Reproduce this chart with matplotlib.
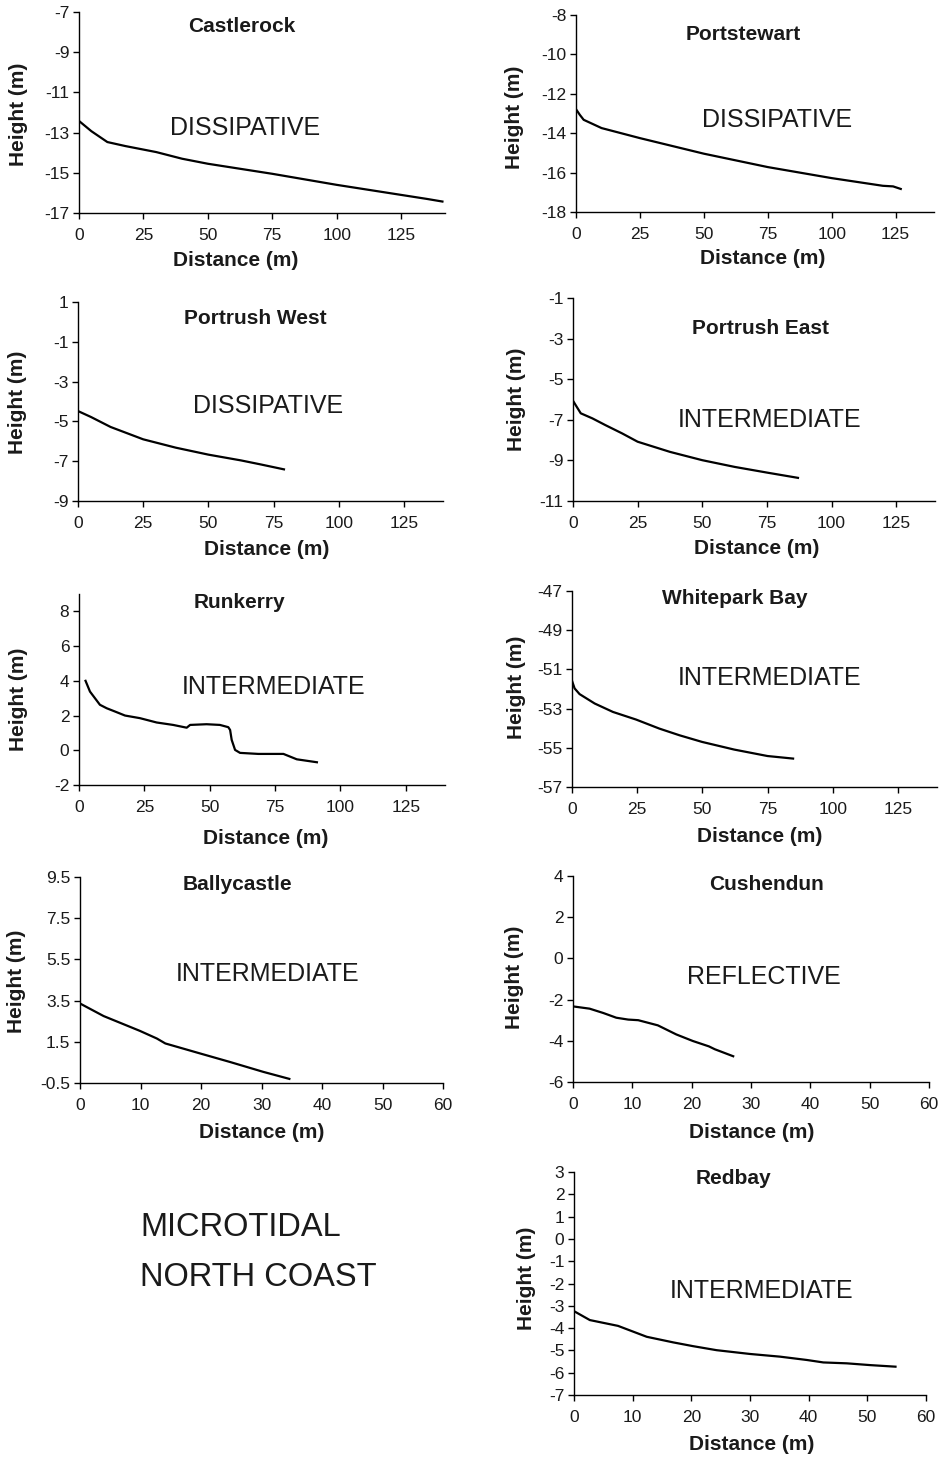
import numpy as np
import matplotlib
matplotlib.use("Agg")
import matplotlib.pyplot as plt

plt.rcParams['font.family'] = ['Liberation Sans', 'DejaVu Sans']
plt.rcParams['axes.unicode_minus'] = False

W, H = 944, 1459

# beach profiles (distance m, height m)
castlerock_x = [0, 4.8, 11, 18, 30, 40, 50, 75, 100, 125, 135, 141]
castlerock_y = [-12.42, -12.93, -13.47, -13.67, -13.97, -14.3, -14.55, -15.05, -15.6, -16.1, -16.3, -16.43]

portstewart_x = [0, 1.5, 3, 10, 25, 50, 75, 100, 120, 124, 127]
portstewart_y = [-12.78, -13.07, -13.32, -13.74, -14.25, -15.04, -15.72, -16.28, -16.67, -16.7, -16.83]

portrushw_x = [0, 5, 12.5, 25, 37.5, 50, 62.5, 70, 79]
portrushw_y = [-4.48, -4.78, -5.28, -5.9, -6.32, -6.67, -6.96, -7.16, -7.41]

portrushe_x = [0, 1, 3, 7.5, 12.5, 19, 25, 37.5, 50, 62.5, 75, 87]
portrushe_y = [-6.06, -6.27, -6.68, -6.93, -7.26, -7.67, -8.08, -8.58, -8.99, -9.32, -9.6, -9.86]

runkerry_x = [2.5, 4.2, 8, 10.6, 13.8, 17.6, 23.3, 29.7, 36, 41.2, 42.5, 48.8, 53.9, 57.1, 57.8,
              58.4, 59.7, 61.6, 68.6, 78.2, 83.3, 91]
runkerry_y = [4.0, 3.38, 2.62, 2.42, 2.23, 2.0, 1.85, 1.6, 1.46, 1.3, 1.46, 1.5, 1.46, 1.33, 1.17,
              0.6, 0.02, -0.15, -0.21, -0.21, -0.52, -0.69]

whitepark_x = [0, 1, 2.9, 8.7, 15.7, 24.6, 33.5, 41.2, 49.9, 62.2, 75, 84.8]
whitepark_y = [-51.58, -51.97, -52.26, -52.74, -53.17, -53.56, -54.02, -54.36, -54.7, -55.09, -55.42, -55.55]

ballycastle_x = [0, 3.9, 9.9, 12.7, 14.1, 19.9, 24.8, 30.3, 34.6]
ballycastle_y = [3.36, 2.75, 2.03, 1.66, 1.42, 0.93, 0.52, 0.04, -0.3]

cushendun_x = [0, 2.8, 5.1, 7.3, 9.3, 11, 14.3, 17.4, 20.2, 22.9, 23.9, 27]
cushendun_y = [-2.33, -2.44, -2.65, -2.88, -2.97, -3.0, -3.25, -3.69, -4.01, -4.27, -4.41, -4.75]

redbay_x = [0, 2.7, 7.5, 12.4, 16.9, 20.3, 24.3, 30, 35.1, 39.7, 42.5, 46.5, 50.5, 54.8]
redbay_y = [-3.24, -3.64, -3.9, -4.39, -4.64, -4.81, -4.99, -5.16, -5.28, -5.43, -5.54, -5.58, -5.66, -5.73]

# name, class, x, y, xlim, xticks, ylim, yticks
panels = [
    ("Castlerock", "DISSIPATIVE", castlerock_x, castlerock_y, 142, np.arange(0, 126, 25), (-17, -7), np.arange(-17, -6, 2)),
    ("Portstewart", "DISSIPATIVE", portstewart_x, portstewart_y, 140, np.arange(0, 126, 25), (-18, -8), np.arange(-18, -7, 2)),
    ("Portrush West", "DISSIPATIVE", portrushw_x, portrushw_y, 140, np.arange(0, 126, 25), (-9, 1), np.arange(-9, 2, 2)),
    ("Portrush East", "INTERMEDIATE", portrushe_x, portrushe_y, 140, np.arange(0, 126, 25), (-11, -1), np.arange(-11, 0, 2)),
    ("Runkerry", "INTERMEDIATE", runkerry_x, runkerry_y, 140, np.arange(0, 126, 25), (-2, 9), np.arange(-2, 9, 2)),
    ("Whitepark Bay", "INTERMEDIATE", whitepark_x, whitepark_y, 140, np.arange(0, 126, 25), (-57, -47), np.arange(-57, -46, 2)),
    ("Ballycastle", "INTERMEDIATE", ballycastle_x, ballycastle_y, 60, np.arange(0, 61, 10), (-0.5, 9.5), np.arange(-0.5, 9.6, 2)),
    ("Cushendun", "REFLECTIVE", cushendun_x, cushendun_y, 60, np.arange(0, 61, 10), (-6, 4), np.arange(-6, 5, 2)),
    ("Redbay", "INTERMEDIATE", redbay_x, redbay_y, 60, np.arange(0, 61, 10), (-7, 3), np.arange(-7, 4, 1)),
]

# axes boxes in pixels: left, right, top, bottom
boxes = [(79, 445, 12, 213), (576, 934, 15, 212), (78, 443, 302, 501), (573, 935, 298, 501),
         (79, 445, 594, 785), (572, 937, 591, 787), (80, 443, 877, 1083), (573, 929, 876, 1082),
         (574, 926, 1172, 1395)]
title_pos = [(242, 26), (743, 34), (255, 318), (760, 328), (239, 602), (735, 599), (237, 885), (766, 884), (733, 1179)]
class_pos = [(245, 128), (777, 120), (268, 406), (770, 420), (274, 687), (770, 678), (268, 974), (764, 977), (762, 1291)]
xlab_pos = [(236, 260), (763, 258), (267, 549), (757, 548), (266, 838), (760, 837), (262, 1133), (752, 1133), (752, 1445)]
ylab_pos = [(19, 114), (514, 117), (18, 402), (517, 399), (19, 699), (517, 687), (17, 981), (515, 977), (526, 1278)]

fig = plt.figure(figsize=(W / 100, H / 100), dpi=100)
tc = '#1a1a1a'

for i, (name, cls, xs, ys, xmax, xt, yl, yt) in enumerate(panels):
    l, r, t, b = boxes[i]
    ax = fig.add_axes([l / W, 1 - b / H, (r - l) / W, (b - t) / H])
    ax.plot(xs, ys, color='black', lw=1.6)
    ax.set_xlim(0, xmax)
    ax.set_ylim(*yl)
    ax.set_xticks(xt)
    ax.set_yticks(yt)
    if name == "Ballycastle":
        ax.set_yticklabels([f"{v:g}" for v in yt])
    for s in ['top', 'right']:
        ax.spines[s].set_visible(False)
    for s in ['left', 'bottom']:
        ax.spines[s].set_linewidth(1.0)
    ax.tick_params(axis='both', direction='out', length=4, width=1.0, labelsize=12.5, labelcolor=tc)
    ax.tick_params(axis='x', pad=7)
    ax.tick_params(axis='y', pad=3)

    tx, ty = title_pos[i]
    fig.text(tx / W, 1 - ty / H, name, ha='center', va='center', fontsize=15, fontweight='bold', color=tc)
    cx, cy = class_pos[i]
    fig.text(cx / W, 1 - cy / H, cls, ha='center', va='center', fontsize=18, color=tc)
    xx, xy = xlab_pos[i]
    fig.text(xx / W, 1 - xy / H, "Distance (m)", ha='center', va='center', fontsize=15, fontweight='bold', color=tc)
    yx, yy = ylab_pos[i]
    fig.text(yx / W, 1 - yy / H, "Height (m)", ha='center', va='center', rotation=90, fontsize=15, fontweight='bold', color=tc)

fig.text(140 / W, 1 - 1228 / H, "MICROTIDAL", ha='left', va='center', fontsize=23.5, color=tc)
fig.text(140 / W, 1 - 1278 / H, "NORTH COAST", ha='left', va='center', fontsize=23.5, color=tc)

fig.savefig("out.png", dpi=100)
